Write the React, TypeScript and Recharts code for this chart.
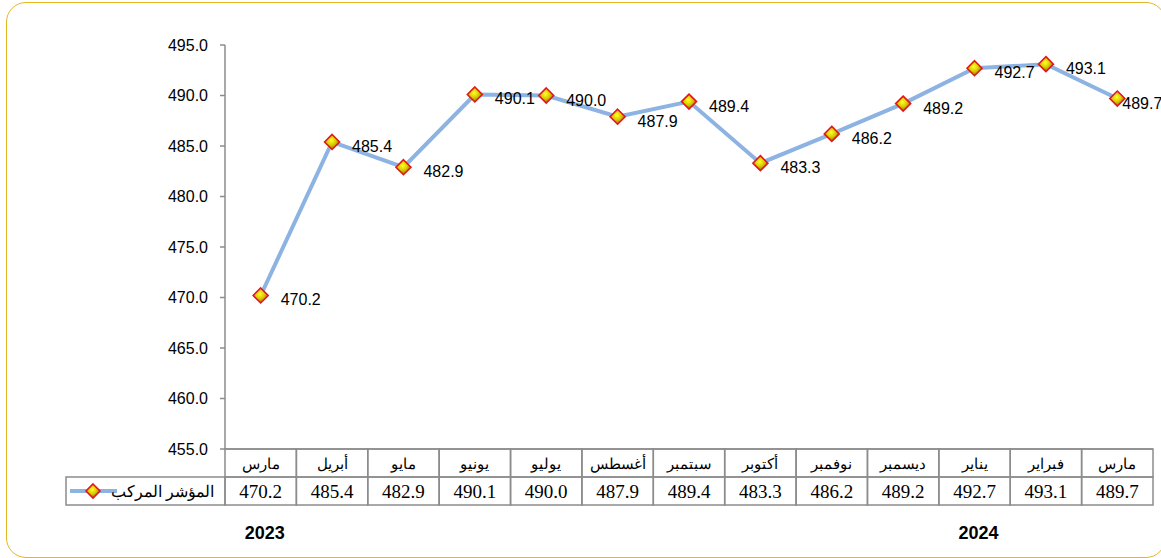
import React from 'react';
import { LineChart, Line, XAxis, YAxis, LabelList } from 'recharts';

const months = ['مارس', 'أبريل', 'مايو', 'يونيو', 'يوليو', 'أغسطس', 'سبتمبر', 'أكتوبر', 'نوفمبر', 'ديسمبر', 'يناير', 'فبراير', 'مارس'];
const values = [470.2, 485.4, 482.9, 490.1, 490.0, 487.9, 489.4, 483.3, 486.2, 489.2, 492.7, 493.1, 489.7];
const yTicks = [455, 460, 465, 470, 475, 480, 485, 490, 495];
const years = ['2023', '2024'];
const yearIndex = [0, 10];
const seriesName = 'المؤشر المركب';

const data = months.map((m, i) => ({ key: i, month: m, value: values[i] }));

const W = 1161;
const H = 558;
const PLOT_LEFT = 225;
const RIGHT_M = 8;
const TOP_M = 45;
const X_H = 109;
const COL_W = (W - PLOT_LEFT - RIGHT_M) / months.length;
const ROW_H = 28;
const GRID = '#8c8c8c';
const LINE = '#8DB3E2';
const SANS = '"Liberation Sans", Arial, sans-serif';
const SERIF = '"Liberation Serif", "Times New Roman", serif';

const Diamond = ({ cx, cy, r = 7.5 }: any) => (
  <polygon
    points={`${cx},${cy - r} ${cx + r},${cy} ${cx},${cy + r} ${cx - r},${cy}`}
    fill="url(#mkGrad)"
    stroke="#E3161B"
    strokeWidth={1.6}
  />
);

const renderDot = (props: any) => <Diamond key={`d${props.index}`} cx={props.cx} cy={props.cy} />;

const renderLabel = (props: any) => {
  const { x, y, value, index } = props;
  const last = index === values.length - 1;
  return (
    <text
      x={last ? x + 5 : x + 20}
      y={y + 10}
      fontFamily={SANS}
      fontSize={16}
      fill="#000"
    >
      {Number(value).toFixed(1)}
    </text>
  );
};

const TableTick = (props: any) => {
  const { x, y, payload } = props;
  const i = payload.value as number;
  const left = x - COL_W / 2;
  const yi = yearIndex.indexOf(i);
  return (
    <g>
      <rect x={left} y={y} width={COL_W} height={ROW_H} fill="none" stroke={GRID} strokeWidth={1.5} />
      <rect x={left} y={y + ROW_H} width={COL_W} height={ROW_H} fill="none" stroke={GRID} strokeWidth={1.5} />
      <text x={x} y={y + 20} textAnchor="middle" fontFamily={SERIF} fontSize={15} fill="#000">
        {months[i]}
      </text>
      <text x={x} y={y + ROW_H + 21} textAnchor="middle" fontFamily={SERIF} fontSize={19} fill="#000">
        {values[i].toFixed(1)}
      </text>
      {i === 0 && (
        <g>
          <rect x={66} y={y + ROW_H} width={left - 66} height={ROW_H} fill="none" stroke={GRID} strokeWidth={1.5} />
          <line x1={70} y1={y + ROW_H * 1.5} x2={117} y2={y + ROW_H * 1.5} stroke={LINE} strokeWidth={4} />
          <Diamond cx={93} cy={y + ROW_H * 1.5} r={7} />
          <text x={214} y={y + ROW_H + 20} textAnchor="end" fontFamily={SERIF} fontSize={16} fill="#000">
            {seriesName}
          </text>
        </g>
      )}
      {yi >= 0 && (
        <text x={x + 4} y={y + 90} textAnchor="middle" fontFamily={SANS} fontSize={18} fontWeight="bold" fill="#000">
          {years[yi]}
        </text>
      )}
    </g>
  );
};

export default function App() {
  return (
    <div style={{ position: 'absolute', left: 0, top: 0, width: W, height: H, background: '#fff', overflow: 'hidden' }}>
      <div
        style={{
          position: 'absolute',
          left: 6,
          top: 2,
          width: 1160,
          height: 556,
          border: '1.5px solid #E3B622',
          borderRadius: 20,
          boxSizing: 'border-box',
        }}
      />
      <div style={{ position: 'absolute', left: 0, top: 0 }}>
        <LineChart width={W} height={H} data={data} margin={{ top: TOP_M, right: RIGHT_M, bottom: 0, left: 0 }}>
          <defs>
            <radialGradient id="mkGrad" cx="45%" cy="40%" r="60%">
              <stop offset="0%" stopColor="#FFFF2A" />
              <stop offset="50%" stopColor="#D8CC00" />
              <stop offset="100%" stopColor="#8E7000" />
            </radialGradient>
          </defs>
          <XAxis
            dataKey="key"
            type="category"
            height={X_H}
            padding={{ left: COL_W / 2, right: COL_W / 2 }}
            axisLine={{ stroke: GRID, strokeWidth: 1.5 }}
            tickLine={false}
            tickSize={0}
            tickMargin={0}
            interval={0}
            tick={<TableTick />}
          />
          <YAxis
            width={PLOT_LEFT}
            domain={[455, 495]}
            ticks={yTicks}
            allowDataOverflow
            axisLine={{ stroke: GRID, strokeWidth: 1.5 }}
            tickLine={{ stroke: GRID, strokeWidth: 1.5 }}
            tickSize={5}
            tickMargin={12}
            tickFormatter={(v: number) => v.toFixed(1)}
            tick={{ fontFamily: SANS, fontSize: 16, fill: '#000' }}
          />
          <Line
            type="linear"
            dataKey="value"
            stroke={LINE}
            strokeWidth={4}
            dot={renderDot}
            activeDot={false}
            isAnimationActive={false}
          >
            <LabelList dataKey="value" content={renderLabel} />
          </Line>
        </LineChart>
      </div>
    </div>
  );
}
